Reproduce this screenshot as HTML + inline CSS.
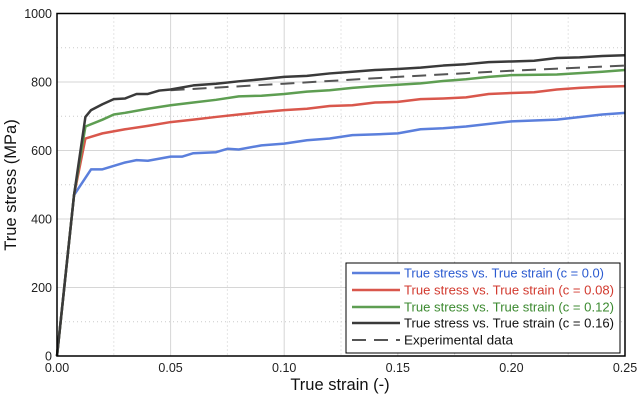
<!DOCTYPE html>
<html><head><meta charset="utf-8"><style>
html,body{margin:0;padding:0;background:#fff;}
svg{display:block;font-family:"Liberation Sans","DejaVu Sans",sans-serif;}
</style></head><body>
<svg id="s" width="640" height="400" viewBox="0 0 640 400" xmlns="http://www.w3.org/2000/svg">
<rect x="0" y="0" width="640" height="400" fill="#fff"/>
<g id="grid"></g>
<g id="series" fill="none" stroke-width="2.5" stroke-linejoin="round"></g>
<rect x="57" y="13.5" width="568" height="342.5" fill="none" stroke="#000" stroke-width="1.5"/>
<g id="ticks" font-size="12.5" fill="#222"></g>
<text x="340" y="390" font-size="16.5" text-anchor="middle" fill="#111">True strain (-)</text>
<text transform="translate(16,185) rotate(-90)" font-size="16.5" text-anchor="middle" fill="#111">True stress (MPa)</text>
<g font-size="12.5">
<rect x="346" y="263" width="274" height="90" fill="#fff" stroke="#000" stroke-width="1"/>
<line x1="352" y1="273" x2="400" y2="273" stroke="#5b7fdc" stroke-width="2.5"/>
<text x="404" y="277.5" fill="#2a5ad0" textLength="200" lengthAdjust="spacingAndGlyphs">True stress vs. True strain (c = 0.0)</text>
<line x1="352" y1="290" x2="400" y2="290" stroke="#d9574c" stroke-width="2.5"/>
<text x="404" y="294.5" fill="#d23a2f" textLength="210" lengthAdjust="spacingAndGlyphs">True stress vs. True strain (c = 0.08)</text>
<line x1="352" y1="307" x2="400" y2="307" stroke="#5e9e52" stroke-width="2.5"/>
<text x="404" y="311.5" fill="#3c8a30" textLength="210" lengthAdjust="spacingAndGlyphs">True stress vs. True strain (c = 0.12)</text>
<line x1="352" y1="323" x2="400" y2="323" stroke="#3a3a3a" stroke-width="2.5"/>
<text x="404" y="327.5" fill="#111" textLength="210" lengthAdjust="spacingAndGlyphs">True stress vs. True strain (c = 0.16)</text>
<line x1="352" y1="340" x2="400" y2="340" stroke="#555" stroke-width="2" stroke-dasharray="14,8"/>
<text x="404" y="344.5" fill="#111" textLength="109" lengthAdjust="spacingAndGlyphs">Experimental data</text>
</g>
</svg>
<script>
var NS="http://www.w3.org/2000/svg";
function X(s){return 57+s*2272;} function Y(v){return 356-v*0.3425;}
function el(p,t,a){var e=document.createElementNS(NS,t);for(var k in a)e.setAttribute(k,a[k]);document.getElementById(p).appendChild(e);return e;}
for(var i=1;i<10;i++){var s=i*0.025,x=X(s);el("grid","line",{x1:x,x2:x,y1:13.5,y2:356,stroke:i%2?"#ccc":"#d6d6d6","stroke-width":1,"stroke-dasharray":i%2?"1,3":""});}
for(var i=1;i<10;i++){var y=Y(i*100);el("grid","line",{x1:57,x2:625,y1:y,y2:y,stroke:i%2?"#ccc":"#d6d6d6","stroke-width":1,"stroke-dasharray":i%2?"1,3":""});}
for(var i=0;i<=5;i++){var t=el("ticks","text",{x:X(i*0.05),y:372,"text-anchor":"middle"});t.textContent=(i*0.05).toFixed(2);}
for(var i=0;i<=5;i++){var t=el("ticks","text",{x:52,y:Y(i*200)+4.5,"text-anchor":"end"});t.textContent=String(i*200);}
var data={
"#5b7fdc":[[0,0],[0.0075,470],[0.015,545],[0.02,545],[0.03,565],[0.035,572],[0.04,570],[0.05,582],[0.055,582],[0.06,592],[0.07,595],[0.075,605],[0.08,603],[0.09,615],[0.1,620],[0.11,630],[0.12,635],[0.13,645],[0.14,647],[0.15,650],[0.16,662],[0.17,665],[0.18,670],[0.2,685],[0.22,690],[0.24,705],[0.25,710]],
"#d9574c":[[0,0],[0.0075,470],[0.0125,635],[0.015,640],[0.02,650],[0.03,662],[0.04,672],[0.05,683],[0.06,690],[0.07,698],[0.08,705],[0.09,712],[0.1,718],[0.11,722],[0.12,730],[0.13,732],[0.14,740],[0.15,742],[0.16,750],[0.17,752],[0.18,755],[0.19,765],[0.2,768],[0.21,770],[0.22,778],[0.23,783],[0.24,786],[0.25,788]],
"#5e9e52":[[0,0],[0.0075,470],[0.0125,670],[0.02,690],[0.025,705],[0.03,710],[0.04,722],[0.05,732],[0.06,740],[0.07,748],[0.08,758],[0.09,760],[0.1,765],[0.11,772],[0.12,776],[0.13,783],[0.14,788],[0.15,792],[0.16,796],[0.17,803],[0.18,808],[0.19,815],[0.2,820],[0.22,822],[0.24,830],[0.25,835]],
"#3a3a3a":[[0,0],[0.0075,470],[0.0125,698],[0.015,718],[0.02,735],[0.025,750],[0.03,752],[0.035,765],[0.04,765],[0.045,775],[0.05,778],[0.06,790],[0.07,795],[0.08,802],[0.09,808],[0.1,815],[0.11,818],[0.12,825],[0.13,830],[0.14,835],[0.15,838],[0.16,842],[0.17,848],[0.18,852],[0.19,858],[0.2,860],[0.21,862],[0.22,870],[0.23,872],[0.24,876],[0.25,878]]};
el("series","polyline",{points:[[0.05,776],[0.1,795],[0.15,815],[0.2,833],[0.25,848]].map(function(p){return X(p[0])+","+Y(p[1]);}).join(" "),stroke:"#555","stroke-width":2,"stroke-dasharray":"14,8"});
for(var c in data){el("series","polyline",{points:data[c].map(function(p){return X(p[0])+","+Y(p[1]);}).join(" "),stroke:c});}
</script>
</body></html>
